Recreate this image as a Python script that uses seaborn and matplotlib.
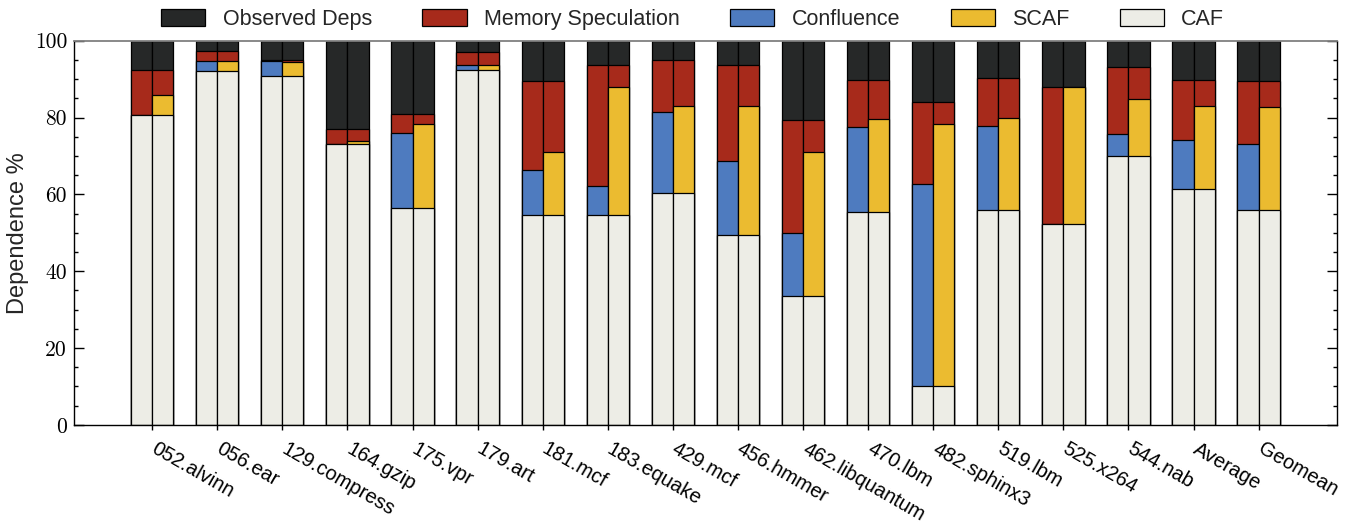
import numpy as np
import pandas as pd
import seaborn as sns
import matplotlib
matplotlib.use('Agg')
from matplotlib import pyplot as plt
from matplotlib.patches import Patch
from matplotlib.ticker import MultipleLocator
from matplotlib.transforms import ScaledTranslation

benches = ['052.alvinn', '056.ear', '129.compress', '164.gzip', '175.vpr', '179.art',
           '181.mcf', '183.equake', '429.mcf', '456.hmmer', '462.libquantum', '470.lbm',
           '482.sphinx3', '519.lbm', '525.x264', '544.nab', 'Average', 'Geomean']

# % of dependences removed by each technique
caf = [80.7, 92.1, 90.8, 73.0, 56.5, 92.4, 54.7, 54.5, 60.3, 49.3, 33.5, 55.5, 10.1, 55.8, 52.4, 69.9, 61.3, 55.8]
confluence = [0.0, 2.7, 3.9, 0.2, 19.5, 1.3, 11.7, 7.8, 21.1, 19.5, 16.5, 22.0, 52.7, 21.9, 0.0, 5.9, 12.9, 17.2]
scaf = [5.3, 2.7, 3.7, 0.9, 21.8, 1.3, 16.3, 33.4, 22.6, 33.7, 37.6, 24.2, 68.3, 24.0, 35.6, 15.0, 21.7, 26.9]
memspec_conf = [11.8, 2.5, 0.3, 3.8, 5.0, 3.3, 23.0, 31.5, 13.5, 25.0, 29.3, 12.3, 21.3, 12.6, 35.6, 17.4, 15.6, 16.6]
memspec_scaf = [6.5, 2.5, 0.5, 3.1, 2.7, 3.3, 18.4, 5.9, 12.0, 10.8, 8.2, 10.1, 5.7, 10.5, 0.0, 8.3, 6.8, 6.9]
observed = [7.5, 2.7, 5.0, 23.0, 19.0, 3.0, 10.6, 6.2, 5.1, 6.2, 20.7, 10.2, 15.9, 9.7, 12.0, 6.8, 10.2, 10.4]

c_obs = '#262828'
c_mem = '#a72a1b'
c_conf = '#4e7bbf'
c_scaf = '#ebbb30'
c_caf = '#edede6'

sns.set_theme(style='white')
plt.rcParams['font.family'] = ['Liberation Sans', 'DejaVu Sans']

# cumulative levels, drawn from the tallest layer down so they look stacked
rows = []
for i, b in enumerate(benches):
    for side, extra, ms in [('conf', confluence[i], memspec_conf[i]), ('scaf', scaf[i], memspec_scaf[i])]:
        mid = caf[i] + extra
        rows.append(dict(bench=b, side=side, caf=caf[i], mid=mid, ms=mid + ms,
                         total=mid + ms + observed[i]))
df = pd.DataFrame(rows)

fig, ax = plt.subplots(figsize=(13.64, 5.29), dpi=100)
fig.subplots_adjust(left=0.0543, right=0.980, top=0.923, bottom=0.197)

layers = [('total', {'conf': c_obs, 'scaf': c_obs}),
          ('ms', {'conf': c_mem, 'scaf': c_mem}),
          ('mid', {'conf': c_conf, 'scaf': c_scaf}),
          ('caf', {'conf': c_caf, 'scaf': c_caf})]
for col, pal in layers:
    sns.barplot(data=df, x='bench', y=col, hue='side', order=benches, hue_order=['conf', 'scaf'],
                palette=pal, saturation=1, width=0.65, edgecolor='black', linewidth=0.9,
                errorbar=None, legend=False, ax=ax)

ax.set_xlim(-1.2, 18.2)
ax.set_ylim(0, 100)
ax.yaxis.set_major_locator(MultipleLocator(20))
ax.yaxis.set_minor_locator(MultipleLocator(5))
ax.set_yticks(range(0, 101, 20))
ax.set_yticklabels([str(v) for v in range(0, 101, 20)], fontfamily='cmr10', fontsize=15.5)
ax.tick_params(axis='y', which='both', direction='in', left=True, right=True, colors='black')
ax.tick_params(axis='y', which='major', length=7, width=1, pad=5)
ax.tick_params(axis='y', which='minor', length=3, width=1)
ax.tick_params(axis='x', direction='out', length=3.5, width=1, bottom=True, top=False,
               colors='black', pad=7)
ax.set_xticks(range(len(benches)))
ax.set_xticklabels(benches, rotation=-30, ha='left', va='top', rotation_mode='anchor', fontsize=14.5)
shift = ScaledTranslation(4 / 72, 0, fig.dpi_scale_trans)
for lab in ax.get_xticklabels():
    lab.set_transform(lab.get_transform() + shift)

for s in ['left', 'right', 'bottom']:
    ax.spines[s].set_color('black')
    ax.spines[s].set_linewidth(1)
ax.spines['top'].set_color('#808080')
ax.spines['top'].set_linewidth(1.3)

ax.set_xlabel('')
ax.set_ylabel('Dependence %', fontsize=17, labelpad=4)

handles = [Patch(facecolor=c_obs, edgecolor='black', linewidth=0.9, label='Observed Deps'),
           Patch(facecolor=c_mem, edgecolor='black', linewidth=0.9, label='Memory Speculation'),
           Patch(facecolor=c_conf, edgecolor='black', linewidth=0.9, label='Confluence'),
           Patch(facecolor=c_scaf, edgecolor='black', linewidth=0.9, label='SCAF'),
           Patch(facecolor=c_caf, edgecolor='black', linewidth=0.9, label='CAF')]
ax.legend(handles=handles, loc='lower center', bbox_to_anchor=(0.49, 1.0), ncol=5, frameon=False,
          fontsize=15.5, handlelength=2.05, handleheight=0.85, handletextpad=0.8,
          columnspacing=2.35, borderaxespad=0.1)

fig.savefig('out.png', dpi=100)
